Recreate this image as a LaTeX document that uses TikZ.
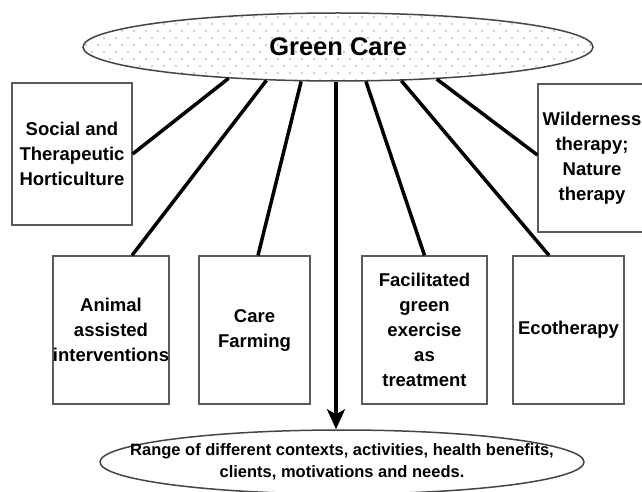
\documentclass[tikz,border=0pt]{standalone}
\usepackage{fontspec}
\setmainfont{Liberation Sans}
\usetikzlibrary{arrows.meta,shapes.geometric,calc}
\definecolor{boxgray}{HTML}{5A5A5A}
\definecolor{elgray}{HTML}{454545}
\definecolor{dotgray}{HTML}{9A9A9A}
\begin{document}
\begin{tikzpicture}[x=1pt,y=-1pt,
  gbox/.style={draw=boxgray, line width=1.2pt, fill=white, inner sep=0pt, align=center,
    font=\bfseries\fontsize{18.5}{25}\selectfont, text=black, minimum height=148pt},
  link/.style={line width=3.5pt, black},
  oval/.style={ellipse, draw=elgray, line width=1.5pt, fill=white, text=black, align=center}
 ]
\useasboundingbox (0,0) rectangle (642,492);
% top ellipse
\node[oval, minimum width=510pt, minimum height=68pt, inner sep=0pt,
  font=\bfseries\fontsize{25.5}{30}\selectfont,
  path picture={
    \foreach \j in {0,...,10} {
      \foreach \i in {0,...,44} {
        \fill[dotgray] ($(path picture bounding box.north west)+({\i*12+mod(\j,2)*6+3},{\j*7+4})$) circle[radius=0.9pt];
      }
    }
  }] (gc) at (338,47) {Green Care};
% boxes
\node[gbox, minimum width=120pt, minimum height=142pt] (sth) at (72,154) {Social and\\Therapeutic\\Horticulture};
\node[gbox, minimum width=108pt] (wild) at (592,158) {Wilderness\\therapy;\\Nature\\therapy};
\node[gbox, minimum width=116pt] (aai) at (111,330) {Animal\\assisted\\interventions};
\node[gbox, minimum width=111pt] (cf) at (254.5,330) {Care\\Farming};
\node[gbox, minimum width=125pt] (fge) at (424.5,330) {Facilitated\\green\\exercise\\as\\treatment};
\node[gbox, minimum width=111pt] (eco) at (568.5,330) {Ecotherapy};
% bottom ellipse
\node[oval, minimum width=484pt, minimum height=64pt, inner xsep=-45pt, inner ysep=-2pt,
  font=\bfseries\fontsize{16.5}{22}\selectfont] (res) at (342,462)
  {Range of different contexts, activities, health benefits,\\clients, motivations and needs.};
% connectors
\draw[link] (gc.196) -- (sth.east);
\draw[link] (gc.205) -- ([xshift=21pt]aai.north);
\draw[link] (gc.223) -- ([xshift=3.5pt]cf.north);
\draw[link] (gc.309) -- (fge.north);
\draw[link] (gc.332) -- ([xshift=-19.5pt]eco.north);
\draw[link] (gc.342) -- ([yshift=3pt]wild.west);
\coordinate (astart) at ([xshift=-2pt]gc.south);
\draw[link, -{Stealth[length=20pt,width=18pt,inset=5pt]}] (astart) -- (astart |- res.north);
\end{tikzpicture}
\end{document}
